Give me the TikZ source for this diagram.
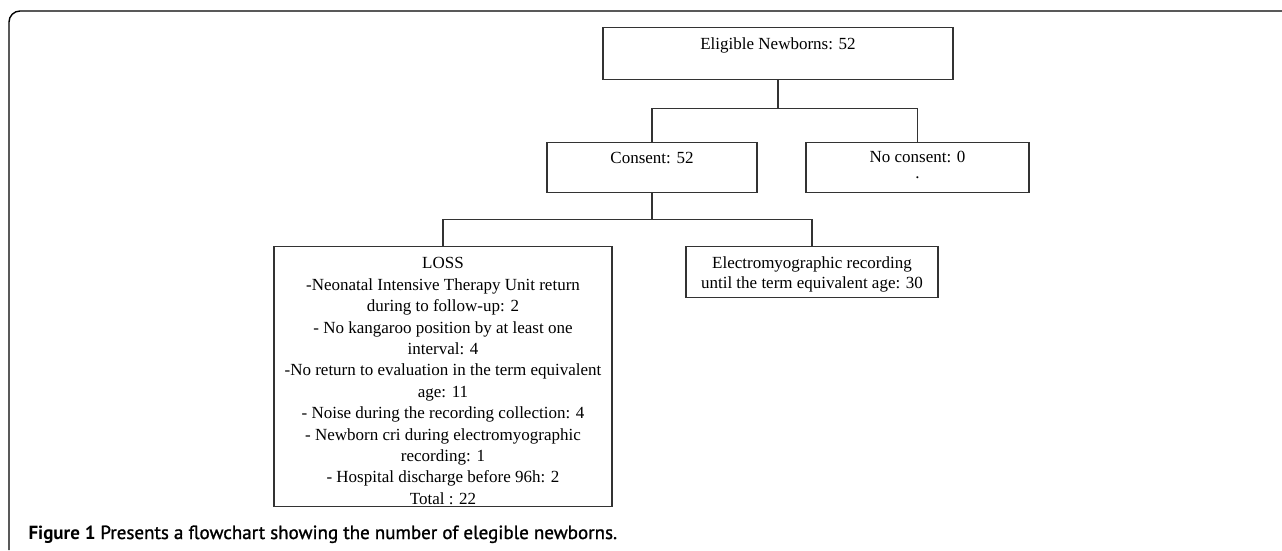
\documentclass[tikz,border=0pt]{standalone}
\usepackage{fontspec}
\setmainfont{Liberation Serif}
\newfontfamily\capfont{PT Sans}
\newfontfamily\capsemi{PT Sans}[FakeBold=1.2]
\usetikzlibrary{positioning}

\tikzset{
  box/.style={draw=black!80, line width=1.2pt, align=center, inner ysep=0pt,
    font=\fontsize{17}{20.5}\selectfont, anchor=north},
  link/.style={draw=black!80, line width=1.2pt}
}

\begin{document}
\begin{tikzpicture}[x=1pt,y=-1pt]
\useasboundingbox (0,0) rectangle (1282,550);
\draw[line width=1.4pt, rounded corners=11pt] (9,550) -- (9,11) -- (1282,11); % frame

\node[box, minimum width=350pt, text height=21.6pt, text depth=30.4pt] (elig) at (778,27) {Eligible Newborns: 52};
\node[box, minimum width=210pt, text height=20.6pt, text depth=29.4pt] (consent) at (652,142) {Consent: 52};
\node[box, minimum width=223pt, text height=35.5pt, text depth=14.5pt] (nocons) at (917.5,142) {No consent: 0\\[-5pt].};
\node[box, minimum width=338pt, text height=257.6pt, text depth=2.4pt, font=\fontsize{17}{21.4}\selectfont] (loss) at (443,246)
  {LOSS\\-Neonatal Intensive Therapy Unit return\\during to follow-up: 2\\- No kangaroo position by at least one\\interval: 4\\-No return to evaluation in the term equivalent\\age: 11\\- Noise during the recording collection: 4\\-  Newborn cri during  electromyographic\\recording: 1\\- Hospital discharge before  96h: 2\\Total : 22};
\node[box, minimum width=252pt, text height=41.6pt, text depth=9.4pt, font=\fontsize{17}{20}\selectfont] (emg) at (812,246)
  {Electromyographic recording\\until the term equivalent age: 30};

\draw[link] (elig.south) -- ++(0,28) coordinate (j1);
\draw[link] (consent.north) |- (j1) -| (nocons.north);
\draw[link] (consent.south) -- ++(0,26) coordinate (j2);
\draw[link] (loss.north) |- (j2) -| (emg.north);

\node[anchor=base west, font=\fontsize{19}{22}\selectfont] (cap) at (25,539)
  {{\capfont\bfseries Figure 1} {\capsemi Presents a flowchart showing the number of elegible newborns.}};
\end{tikzpicture}
\end{document}
